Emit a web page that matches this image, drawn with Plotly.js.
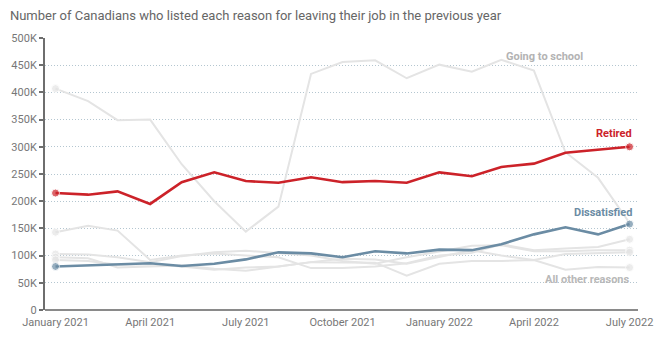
<!DOCTYPE html>
<html>
<head>
<meta charset="utf-8">
<script src="https://cdn.plot.ly/plotly-3.0.1.min.js"></script>
<style>html,body{margin:0;padding:0;background:#fff;}#chart{width:660px;height:337px;}</style>
</head>
<body>
<div id="chart"></div>
<script>
const months = ['2021-01-01','2021-02-01','2021-03-01','2021-04-01','2021-05-01','2021-06-01','2021-07-01','2021-08-01','2021-09-01','2021-10-01','2021-11-01','2021-12-01','2022-01-01','2022-02-01','2022-03-01','2022-04-01','2022-05-01','2022-06-01','2022-07-01'];
const goingToSchool = [407000,384000,349000,350000,268000,200000,144000,190000,434000,456000,459000,426000,451000,438000,460000,440000,290000,243000,160000];
const retired = [215000,212000,218000,195000,235000,253000,237000,234000,244000,235000,237000,234000,253000,246000,263000,269000,289000,295000,300000];
const dissatisfied = [80000,82000,84000,86000,81000,85000,93000,106000,104000,97000,108000,104000,111000,110000,121000,139000,152000,139000,158000];
const other1 = [143000,155000,146000,92000,100000,104000,100000,97000,77000,77000,80000,86000,100000,105000,121000,110000,113000,116000,130000];
const other2 = [103000,102000,97000,88000,99000,106000,109000,104000,100000,90000,85000,97000,107000,118000,119000,108000,108000,110000,110000];
const other3 = [97000,95000,78000,80000,82000,76000,72000,80000,88000,94000,93000,85000,97000,110000,100000,92000,103000,104000,106000];
const other4 = [92000,90000,83000,84000,80000,74000,78000,80000,88000,88000,87000,63000,85000,90000,90000,92000,74000,79000,78000];
const yTickVals = [0,50000,100000,150000,200000,250000,300000,350000,400000,450000,500000];
const yTickText = ['0','50K','100K','150K','200K','250K','300K','350K','400K','450K','500K'];
const xTickVals = ['2021-01-01','2021-04-01','2021-07-01','2021-10-01','2022-01-01','2022-04-01','2022-07-01'];
const xTickText = ['January 2021','April 2021','July 2021','October 2021','January 2022','April 2022','July 2022'];

const last = months.length - 1;
function endSizes(n, s){ return months.map((m,i)=> (i===0||i===n) ? s : 0); }

const grayC = '#e4e4e4';
function grayTrace(y){
  return {x: months, y: y, type:'scatter', mode:'lines+markers',
    line:{color:grayC, width:2}, marker:{color:grayC, size:endSizes(last,8)},
    hoverinfo:'skip', showlegend:false};
}
const traces = [
  grayTrace(other1), grayTrace(other2), grayTrace(other3), grayTrace(other4),
  {x: months, y: goingToSchool, type:'scatter', mode:'lines+markers',
    line:{color:grayC, width:2}, marker:{color:grayC, size:months.map((m,i)=>i===0?8:0)}, showlegend:false},
  {x: months, y: dissatisfied, type:'scatter', mode:'lines+markers',
    line:{color:'#6b8ca4', width:2.6}, marker:{color:'#6b8ca4', size:endSizes(last,8)}, showlegend:false},
  {x: months, y: retired, type:'scatter', mode:'lines+markers',
    line:{color:'#cc2229', width:2.6}, marker:{color:'#cc2229', size:endSizes(last,8)}, showlegend:false}
];

const lblFont = (c)=>({family:'Roboto, "Open Sans", sans-serif', size:11, color:c, weight:700});
const layout = {
  width:660, height:337,
  margin:{l:45, r:22, t:38, b:27},
  paper_bgcolor:'#fff', plot_bgcolor:'#fff',
  font:{family:'Roboto, "Open Sans", sans-serif', color:'#777', size:11},
  title:{text:'Number of Canadians who listed each reason for leaving their job in the previous year',
    x:0.015, xanchor:'left', y:0.955, yanchor:'middle',
    font:{family:'Roboto, "Open Sans", sans-serif', size:13, color:'#666'}},
  xaxis:{type:'date', range:['2020-12-22','2022-07-09'], tickvals:xTickVals, ticktext:xTickText,
    showgrid:false, zeroline:false, showline:false, ticks:'', ticklabelstandoff:4,
    tickfont:{size:11, color:'#777'}, fixedrange:true},
  yaxis:{range:[0,500000], tickvals:yTickVals, ticktext:yTickText,
    showgrid:true, gridcolor:'#b4c6d0', griddash:'1px,2px', gridwidth:1,
    zeroline:true, zerolinecolor:'#8a8a8a', zerolinewidth:2,
    showline:true, linecolor:'#6e6e6e', linewidth:2,
    ticks:'outside', ticklen:4, tickcolor:'#6e6e6e', tickwidth:2,
    tickfont:{size:11, color:'#777'}, fixedrange:true},
  annotations:[
    {x:months[14], y:goingToSchool[14], text:'Going to school', showarrow:false, xanchor:'left', yanchor:'bottom', xshift:3, yshift:-5, font:lblFont('#b3b3b3')},
    {x:months[last], y:retired[last], text:'Retired', showarrow:false, xanchor:'right', yanchor:'bottom', xshift:4, yshift:5, font:lblFont('#cc2229')},
    {x:months[last], y:dissatisfied[last], text:'Dissatisfied', showarrow:false, xanchor:'right', yanchor:'bottom', xshift:4, yshift:3, font:lblFont('#6b8ca4')},
    {x:months[last], y:other4[last], text:'All other reasons', showarrow:false, xanchor:'right', yanchor:'top', xshift:2, yshift:-3, font:lblFont('#b8b8b8')}
  ]
};
Plotly.newPlot('chart', traces, layout, {displayModeBar:false, staticPlot:true});
</script>
</body>
</html>
